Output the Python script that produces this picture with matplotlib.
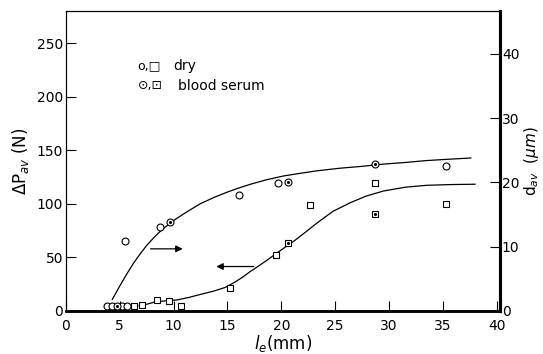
import numpy as np
import matplotlib.pyplot as plt

# datos leidos de la figura
# circulos -> eje derecho d_av (um), cuadrados -> eje izquierdo dP_av (N)
circ_seco_x = [3.8, 4.3, 5.2, 5.7, 5.5, 8.7, 16.1, 19.7, 35.3]
circ_seco_y = [0.8, 0.8, 0.8, 0.7, 10.9, 13.0, 18.0, 19.9, 22.6]
circ_suero_x = [4.75, 9.7, 20.6, 28.7]
circ_suero_y = [0.8, 13.8, 20.0, 22.9]

cuad_seco_x = [6.3, 7.1, 8.5, 9.6, 10.7, 15.2, 19.5, 22.7, 28.7, 35.3]
cuad_seco_y = [4.7, 5.5, 10.5, 9.0, 4.5, 21.2, 52.0, 99.2, 119.7, 99.5]
cuad_suero_x = [20.6, 28.7]
cuad_suero_y = [63.7, 90.8]

# curvas trazadas a mano en el original
curva_d_x = [4.3, 5.0, 5.7, 6.3, 6.9, 7.5, 8.1, 8.7, 9.4, 10.2, 11.3, 12.5, 13.8, 15.0,
             16.0, 17.1, 18.6, 20.2, 21.7, 23.3, 25.4, 27.5, 29.5, 31.5, 33.5, 35.5, 37.6]
curva_d_y = [1.8, 3.9, 5.9, 7.5, 8.9, 10.2, 11.3, 12.3, 13.3, 14.3, 15.5, 16.7, 17.7, 18.5,
             19.1, 19.7, 20.4, 21.0, 21.4, 21.8, 22.2, 22.5, 22.85, 23.1, 23.4, 23.6, 23.8]
curva_p_x = [6.8, 7.5, 8.3, 9.3, 10.3, 11.4, 12.5, 13.7, 14.8, 15.7, 16.4, 17.1, 17.9, 18.7,
             19.5, 20.4, 21.3, 22.3, 23.3, 24.8, 26.4, 27.9, 29.5, 31.5, 33.5, 35.8, 38.0]
curva_p_y = [5.0, 6.3, 8.5, 9.5, 10.3, 12.6, 15.5, 18.5, 22.0, 27.0, 31.5, 36.7, 42.0, 47.6,
             53.5, 59.8, 66.2, 74.0, 82.0, 93.0, 101.0, 107.3, 112.0, 115.5, 117.3, 118.0, 118.3]

fig = plt.figure(figsize=(5.43, 3.54), dpi=100)
ax = fig.add_axes([0.1215, 0.1215, 0.799, 0.8475])
ax2 = ax.twinx()

ax.set_xlim(0, 40.3)
ax.set_ylim(0, 280)
ax2.set_ylim(0, 280 / 6)

ax.plot(curva_p_x, curva_p_y, color='black', lw=0.9)
ax2.plot(curva_d_x, curva_d_y, color='black', lw=0.9)

ms = 5
ax2.plot(circ_seco_x, circ_seco_y, 'o', mfc='white', mec='black', mew=0.8, ms=ms)
ax2.plot(circ_suero_x, circ_suero_y, 'o', mfc='white', mec='black', mew=0.8, ms=ms)
ax2.plot(circ_suero_x, circ_suero_y, '.', color='black', ms=2.5)
ax.plot(cuad_seco_x, cuad_seco_y, 's', mfc='white', mec='black', mew=0.8, ms=ms)
ax.plot(cuad_suero_x, cuad_suero_y, 's', mfc='white', mec='black', mew=0.8, ms=ms)
ax.plot(cuad_suero_x, cuad_suero_y, '.', color='black', ms=2.5)

# flechas
ax.annotate('', xy=(11.1, 58), xytext=(7.6, 58),
            arrowprops=dict(arrowstyle='-|>', color='black', lw=0.9, mutation_scale=10))
ax.annotate('', xy=(13.7, 41.5), xytext=(17.7, 41.5),
            arrowprops=dict(arrowstyle='-|>', color='black', lw=0.9, mutation_scale=10))

# leyenda como texto
ax.text(0.165, 0.817, 'o,□', transform=ax.transAxes, fontsize=9, va='center')
ax.text(0.247, 0.817, 'dry', transform=ax.transAxes, fontsize=10, va='center')
ax.text(0.165, 0.75, '⊙,⊡', transform=ax.transAxes, fontsize=9, va='center')
ax.text(0.259, 0.75, 'blood serum', transform=ax.transAxes, fontsize=10, va='center')

ax.set_xticks(np.arange(0, 41, 5))
ax.set_yticks(np.arange(0, 251, 50))
ax2.set_yticks(np.arange(0, 41, 10))

ax.tick_params(direction='in', length=7, width=0.8, labelsize=10)
ax.tick_params(axis='x', pad=6)
ax.tick_params(axis='y', pad=2)
ax2.tick_params(direction='in', length=7, width=0.8, labelsize=10, pad=1.5)

for a in (ax, ax2):
    a.spines['left'].set_linewidth(0.8)
    a.spines['top'].set_linewidth(0.8)
    a.spines['bottom'].set_linewidth(1.8)
    a.spines['right'].set_linewidth(2.2)

ax.set_xlabel('$l_e$(mm)', fontsize=12, labelpad=0)
ax.set_ylabel(r'$\Delta$P$_{av}$ (N)', fontsize=12, labelpad=4)
ax2.set_ylabel(r'd$_{av}$  ($\mu m$)', fontsize=11, labelpad=2)

fig.savefig('out.png', dpi=100)
